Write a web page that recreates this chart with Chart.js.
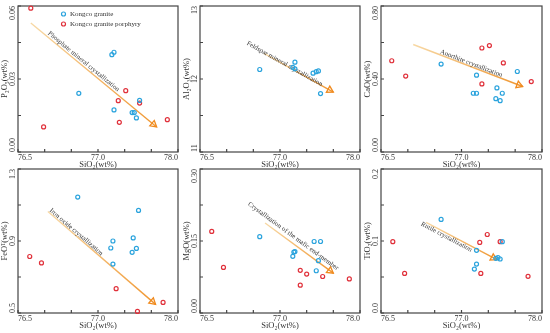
<!DOCTYPE html>
<html>
<head>
<meta charset="utf-8">
<script src="https://cdn.jsdelivr.net/npm/chart.js@4.4.1/dist/chart.umd.min.js"></script>
<style>
  html, body { margin: 0; padding: 0; background: #fff; }
  #wrap { position: relative; width: 550px; height: 333px; overflow: hidden; }
  #wrap canvas { position: absolute; }
</style>
</head>
<body>
<div id="wrap"></div>
<script>
// --- data: [SiO2, oxide] pairs (wt%) ---
const sio2TickLabels = ['76.5', '', '', '77.0', '', '', '78.0'];

const p2o5Granite  = [[77.07, 0.0241], [77.38, 0.0400], [77.40, 0.0410], [77.40, 0.0173], [77.57, 0.0162], [77.59, 0.0162], [77.61, 0.0140], [77.64, 0.0212]];
const p2o5Porphyry = [[76.62, 0.0591], [76.74, 0.0103], [77.51, 0.0252], [77.44, 0.0211], [77.64, 0.0201], [77.45, 0.0122], [77.90, 0.0133]];

const al2o3Granite  = [[77.06, 12.13], [77.39, 12.23], [77.37, 12.16], [77.39, 12.14], [77.56, 12.08], [77.59, 12.10], [77.61, 12.11], [77.63, 11.80]];
const al2o3Porphyry = [];

const caoGranite  = [[77.06, 0.482], [77.39, 0.421], [77.36, 0.322], [77.39, 0.322], [77.58, 0.351], [77.63, 0.322], [77.57, 0.292], [77.61, 0.281], [77.77, 0.441]];
const caoPorphyry = [[76.60, 0.500], [76.73, 0.416], [77.44, 0.570], [77.51, 0.583], [77.64, 0.488], [77.44, 0.373], [77.90, 0.386]];

const feotGranite  = [[77.06, 1.144], [77.63, 1.070], [77.58, 0.917], [77.39, 0.900], [77.37, 0.861], [77.61, 0.859], [77.57, 0.837], [77.39, 0.772]];
const feotPorphyry = [[76.61, 0.814], [76.72, 0.778], [77.42, 0.635], [77.86, 0.559], [77.62, 0.509]];

const mgoGranite  = [[77.06, 0.159], [77.39, 0.128], [77.37, 0.118], [77.38, 0.127], [77.57, 0.149], [77.63, 0.149], [77.61, 0.109], [77.59, 0.088]];
const mgoPorphyry = [[76.61, 0.170], [76.72, 0.095], [77.44, 0.089], [77.50, 0.081], [77.44, 0.058], [77.65, 0.076], [77.90, 0.071]];

const tio2Granite  = [[77.06, 0.130], [77.39, 0.087], [77.39, 0.068], [77.37, 0.061], [77.59, 0.077], [77.61, 0.075], [77.57, 0.076], [77.63, 0.099]];
const tio2Porphyry = [[76.61, 0.099], [76.72, 0.055], [77.42, 0.098], [77.49, 0.109], [77.43, 0.055], [77.61, 0.099], [77.87, 0.051]];

// trend arrows, start/end in data units
const p2o5Arrow  = [[76.62, 0.053], [77.80, 0.0103]];
const al2o3Arrow = [[77.10, 12.35], [77.75, 11.82]];
const caoArrow   = [[76.80, 0.589], [77.82, 0.359]];
const feotArrow  = [[76.78, 1.064], [77.79, 0.548]];
const mgoArrow   = [[77.11, 0.1875], [77.75, 0.083]];
const tio2Arrow  = [[76.92, 0.126], [77.58, 0.074]];

const serif = "'Liberation Serif', 'DejaVu Serif', serif";
const textColor = '#333';
const frameColor = '#444';
const blue = '#2aa3dd';
const red = '#e0303a';

// page layout of the plot frames
const cols = [[18, 178], [200, 360], [381, 542]];
const rows = [[6, 152], [169, 313]];

const panels = [
  { col: 0, row: 0, title: 'P₂O₅(wt%)', min: 0, max: 0.06, yTicks: ['0.00', '0.03', '0.06'],
    granite: p2o5Granite, porphyry: p2o5Porphyry, arrow: p2o5Arrow,
    note: 'Phosphate mineral crystallization', t: 0.40, off: 4, legend: true },
  { col: 1, row: 0, title: 'Al₂O₃(wt%)', min: 11, max: 13, yTicks: ['11', '12', '13'],
    granite: al2o3Granite, porphyry: al2o3Porphyry, arrow: al2o3Arrow,
    note: 'Feldspar mineral crystallization', t: 0.29, off: 1 },
  { col: 2, row: 0, title: 'CaO(wt%)', min: 0, max: 0.8, yTicks: ['0.00', '0.40', '0.80'],
    granite: caoGranite, porphyry: caoPorphyry, arrow: caoArrow,
    note: 'Anorthite crystallization', t: 0.52, off: 3 },
  { col: 0, row: 1, title: 'FeOᵀ(wt%)', min: 0.5, max: 1.3, yTicks: ['0.5', '0.9', '1.3'],
    granite: feotGranite, porphyry: feotPorphyry, arrow: feotArrow,
    note: 'Iron oxide crystallization', t: 0.245, off: 3 },
  { col: 1, row: 1, title: 'MgO(wt%)', min: 0, max: 0.3, yTicks: ['0.00', '0.15', '0.30'],
    granite: mgoGranite, porphyry: mgoPorphyry, arrow: mgoArrow,
    note: 'Crystallization of the mafic end-member', t: 0.36, off: 6 },
  { col: 2, row: 1, title: 'TiO₂(wt%)', min: 0, max: 0.2, yTicks: ['0.0', '0.1', '0.2'],
    granite: tio2Granite, porphyry: tio2Porphyry, arrow: tio2Arrow,
    note: 'Rutile crystallization', t: 0.31, off: -3.4 }
];

function toPoints(pairs) {
  return pairs.map(p => ({ x: p[0], y: p[1] }));
}

// frame, inward ticks, rotated y labels, arrow + note, in-plot legend
const panelDecor = {
  id: 'panelDecor',
  beforeDatasetsDraw(chart, args, opts) {
    const ctx = chart.ctx;
    const a = chart.chartArea;
    const xs = chart.scales.x, ys = chart.scales.y;
    ctx.save();

    // frame
    ctx.strokeStyle = frameColor;
    ctx.lineWidth = 1.2;
    ctx.strokeRect(a.left, a.top, a.right - a.left, a.bottom - a.top);

    // inner ticks
    ctx.beginPath();
    xs.ticks.forEach(t => {
      const px = xs.getPixelForValue(t.value);
      ctx.moveTo(px, a.bottom);
      ctx.lineTo(px, a.bottom - 3);
    });
    const step = (ys.max - ys.min) / 4;
    for (let i = 0; i <= 4; i++) {
      const py = ys.getPixelForValue(ys.min + i * step);
      ctx.moveTo(a.left, py);
      ctx.lineTo(a.left + 3, py);
    }
    ctx.stroke();

    // y tick labels, rotated
    ctx.fillStyle = textColor;
    ctx.font = '8px ' + serif;
    ctx.textBaseline = 'middle';
    const vals = [ys.min, (ys.min + ys.max) / 2, ys.max];
    const aligns = ['left', 'center', 'right'];
    vals.forEach((v, i) => {
      ctx.save();
      ctx.translate(a.left - 5, ys.getPixelForValue(v));
      ctx.rotate(-Math.PI / 2);
      ctx.textAlign = aligns[i];
      ctx.fillText(opts.yTicks[i], 0, 0);
      ctx.restore();
    });

    // trend arrow
    const p0 = { x: xs.getPixelForValue(opts.arrow[0][0]), y: ys.getPixelForValue(opts.arrow[0][1]) };
    const p1 = { x: xs.getPixelForValue(opts.arrow[1][0]), y: ys.getPixelForValue(opts.arrow[1][1]) };
    const dx = p1.x - p0.x, dy = p1.y - p0.y;
    const len = Math.hypot(dx, dy);
    const ang = Math.atan2(dy, dx);
    const grad = ctx.createLinearGradient(p0.x, p0.y, p1.x, p1.y);
    grad.addColorStop(0, '#f7d9a6');
    grad.addColorStop(1, '#f0952e');
    ctx.strokeStyle = grad;
    ctx.lineWidth = 1.4;
    ctx.beginPath();
    ctx.moveTo(p0.x, p0.y);
    ctx.lineTo(p1.x, p1.y);
    ctx.stroke();

    ctx.save();
    ctx.translate(p1.x, p1.y);
    ctx.rotate(ang);
    ctx.strokeStyle = '#f08a1e';
    ctx.lineWidth = 1.3;
    ctx.beginPath();
    ctx.moveTo(-6, -3.5);
    ctx.lineTo(0, 0);
    ctx.lineTo(-6, 3.5);
    ctx.closePath();
    ctx.stroke();
    ctx.restore();

    // note along the arrow
    const nx = dy / len, ny = -dx / len;
    const cx = p0.x + dx * opts.t + nx * opts.off;
    const cy = p0.y + dy * opts.t + ny * opts.off;
    ctx.save();
    ctx.translate(cx, cy);
    ctx.rotate(ang);
    ctx.fillStyle = textColor;
    ctx.font = '6.8px ' + serif;
    ctx.textAlign = 'center';
    ctx.textBaseline = 'middle';
    ctx.fillText(opts.note, 0, 0);
    ctx.restore();

    ctx.restore();
  },
  afterDraw(chart, args, opts) {
    if (!opts.legend) return;
    const ctx = chart.ctx;
    ctx.save();
    ctx.font = '7px ' + serif;
    ctx.textBaseline = 'middle';
    ctx.textAlign = 'left';
    chart.data.datasets.forEach((ds, i) => {
      const y = 14 + i * 10;
      ctx.strokeStyle = ds.borderColor;
      ctx.lineWidth = 1.2;
      ctx.beginPath();
      ctx.arc(63.5, y, 2, 0, Math.PI * 2);
      ctx.stroke();
      ctx.fillStyle = textColor;
      ctx.fillText(ds.label, 70, y);
    });
    ctx.restore();
  }
};

const wrap = document.getElementById('wrap');

panels.forEach(p => {
  const [l, r] = cols[p.col];
  const [t, b] = rows[p.row];
  const canvas = document.createElement('canvas');
  const w = (r - l) + 18 + 6;
  const h = (b - t) + 6 + 18;
  canvas.width = w;
  canvas.height = h;
  canvas.style.left = (l - 18) + 'px';
  canvas.style.top = (t - 6) + 'px';
  canvas.style.width = w + 'px';
  canvas.style.height = h + 'px';
  wrap.appendChild(canvas);

  new Chart(canvas, {
    type: 'scatter',
    data: {
      datasets: [
        { label: 'Kongco granite', data: toPoints(p.granite), borderColor: blue, backgroundColor: 'rgba(0,0,0,0)',
          pointRadius: 2, pointBorderWidth: 1.2, clip: false },
        { label: 'Kongco granite porphyry', data: toPoints(p.porphyry), borderColor: red, backgroundColor: 'rgba(0,0,0,0)',
          pointRadius: 2, pointBorderWidth: 1.2, clip: false }
      ]
    },
    options: {
      responsive: false,
      animation: false,
      devicePixelRatio: 1,
      layout: { padding: { top: 6, right: 6, left: 0, bottom: 0 } },
      plugins: {
        legend: { display: false },
        tooltip: { enabled: false },
        panelDecor: { yTicks: p.yTicks, arrow: p.arrow, note: p.note, t: p.t, off: p.off, legend: !!p.legend }
      },
      scales: {
        x: {
          type: 'linear', min: 76.5, max: 78.0,
          afterFit: s => { s.height = 18; },
          grid: { display: false, drawTicks: false },
          border: { display: false },
          ticks: {
            stepSize: 0.25, autoSkip: false, minRotation: 0, maxRotation: 0, align: 'inner', padding: 1,
            color: textColor, font: { family: serif, size: 8 },
            callback: (v, i) => sio2TickLabels[i]
          },
          title: { display: true, text: 'SiO₂(wt%)', color: textColor, font: { family: serif, size: 8.5 }, padding: 0 }
        },
        y: {
          type: 'linear', min: p.min, max: p.max,
          afterFit: s => { s.width = 18; },
          grid: { display: false, drawTicks: false },
          border: { display: false },
          ticks: { display: false },
          title: { display: true, text: p.title, color: textColor, font: { family: serif, size: 8.5 }, padding: 0 }
        }
      }
    },
    plugins: [panelDecor]
  });
});
</script>
</body>
</html>
